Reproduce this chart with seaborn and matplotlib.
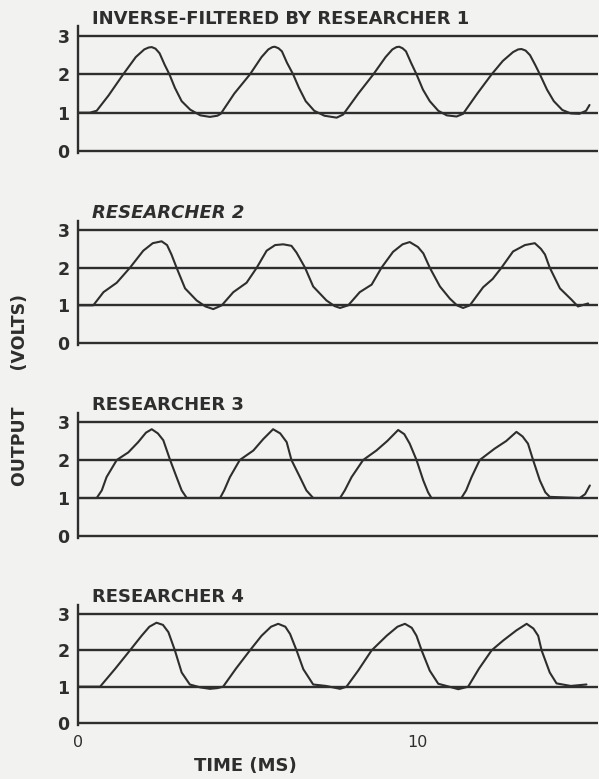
import pandas as pd
import matplotlib
matplotlib.use("Agg")
import matplotlib.pyplot as plt
import seaborn as sns

# --- Data (time in ms, output in volts) ---
r1_t = [0.0, 0.35, 0.55, 0.9, 1.33, 1.7, 1.95, 2.08, 2.17, 2.28, 2.4, 2.55, 2.69, 2.85, 3.05, 3.3, 3.6, 3.88, 4.1, 4.2,
        4.6, 5.06, 5.4, 5.6, 5.72, 5.79, 5.9, 6.0, 6.15, 6.33, 6.5, 6.7, 6.95, 7.25, 7.61, 7.8,
        8.25, 8.69, 9.05, 9.25, 9.37, 9.45, 9.55, 9.65, 9.8, 9.96, 10.15, 10.35, 10.6, 10.85, 11.14, 11.33,
        11.75, 12.17, 12.5, 12.8, 12.95, 13.05, 13.17, 13.3, 13.45, 13.59, 13.8, 14.0, 14.25, 14.5, 14.75, 14.95, 15.05]
r1_v = [1.0, 1.0, 1.05, 1.45, 2.0, 2.45, 2.65, 2.7, 2.71, 2.67, 2.55, 2.25, 2.0, 1.65, 1.3, 1.08, 0.93, 0.89, 0.92, 0.97,
        1.5, 2.0, 2.45, 2.65, 2.71, 2.72, 2.68, 2.6, 2.3, 2.0, 1.65, 1.3, 1.05, 0.92, 0.87, 0.95,
        1.5, 2.0, 2.45, 2.65, 2.71, 2.72, 2.68, 2.6, 2.3, 2.0, 1.6, 1.3, 1.05, 0.93, 0.9, 0.97,
        1.5, 2.0, 2.35, 2.58, 2.65, 2.66, 2.62, 2.5, 2.25, 2.0, 1.6, 1.3, 1.07, 0.98, 0.97, 1.05, 1.2]

r2_t = [0.0, 0.45, 0.75, 1.14, 1.53, 1.92, 2.2, 2.46, 2.62, 2.75, 2.9, 3.15, 3.49, 3.75, 3.98, 4.23,
        4.57, 4.96, 5.26, 5.55, 5.8, 6.04, 6.28, 6.43, 6.68, 6.92, 7.31, 7.55, 7.71, 7.95,
        8.29, 8.64, 8.93, 9.27, 9.55, 9.76, 10.0, 10.16, 10.35, 10.65, 10.94, 11.15, 11.33, 11.53,
        11.92, 12.2, 12.46, 12.8, 13.15, 13.44, 13.62, 13.74, 13.88, 14.18, 14.52, 14.71, 15.01]
r2_v = [1.0, 1.0, 1.35, 1.6, 2.0, 2.45, 2.65, 2.7, 2.6, 2.35, 2.0, 1.45, 1.13, 0.97, 0.9, 1.0,
        1.35, 1.6, 2.0, 2.45, 2.6, 2.62, 2.58, 2.4, 2.0, 1.5, 1.13, 0.98, 0.93, 1.0,
        1.35, 1.55, 2.0, 2.42, 2.62, 2.68, 2.55, 2.38, 2.0, 1.5, 1.18, 1.0, 0.93, 1.0,
        1.48, 1.7, 2.0, 2.43, 2.6, 2.65, 2.5, 2.35, 2.0, 1.45, 1.15, 0.97, 1.05]

r3_t = [0.0, 0.55, 0.7, 0.84, 1.14, 1.48, 1.77, 2.0, 2.17, 2.35, 2.51, 2.71, 2.9, 3.05, 3.2, 4.18,
        4.3, 4.47, 4.76, 5.16, 5.45, 5.74, 5.95, 6.14, 6.28, 6.53, 6.72, 6.92, 7.71,
        7.85, 8.05, 8.39, 8.78, 9.1, 9.42, 9.6, 9.76, 9.96, 10.16, 10.3, 10.4, 11.28,
        11.42, 11.58, 11.82, 12.26, 12.6, 12.9, 13.08, 13.24, 13.39, 13.59, 13.75, 13.88, 14.76, 14.92, 15.06]
r3_v = [1.0, 1.0, 1.2, 1.55, 2.0, 2.2, 2.47, 2.72, 2.81, 2.7, 2.52, 2.0, 1.55, 1.2, 1.0, 1.0,
        1.2, 1.55, 2.0, 2.25, 2.55, 2.81, 2.7, 2.47, 2.0, 1.55, 1.2, 1.0, 1.0,
        1.2, 1.55, 2.0, 2.25, 2.5, 2.79, 2.68, 2.43, 2.0, 1.46, 1.15, 1.0, 1.0,
        1.2, 1.55, 2.0, 2.3, 2.5, 2.74, 2.62, 2.43, 2.0, 1.46, 1.15, 1.03, 1.0, 1.1, 1.33]

r4_t = [0.0, 0.65, 1.1, 1.53, 1.87, 2.1, 2.31, 2.5, 2.66, 2.85, 3.05, 3.29, 3.6, 3.88, 4.1, 4.27,
        4.65, 5.06, 5.4, 5.68, 5.89, 6.1, 6.24, 6.43, 6.63, 6.92, 7.3, 7.71, 7.9,
        8.25, 8.64, 9.08, 9.4, 9.62, 9.82, 9.96, 10.11, 10.35, 10.6, 10.84, 11.19, 11.48,
        11.8, 12.17, 12.51, 12.9, 13.2, 13.4, 13.54, 13.64, 13.88, 14.08, 14.5, 14.96]
r4_v = [1.0, 1.0, 1.5, 2.0, 2.4, 2.65, 2.76, 2.7, 2.5, 2.0, 1.39, 1.06, 0.98, 0.94, 0.96, 1.0,
        1.5, 2.0, 2.4, 2.65, 2.73, 2.65, 2.45, 2.0, 1.48, 1.06, 1.02, 0.94, 1.0,
        1.45, 2.0, 2.4, 2.65, 2.73, 2.62, 2.4, 2.0, 1.44, 1.08, 1.02, 0.93, 1.0,
        1.5, 2.0, 2.27, 2.55, 2.73, 2.6, 2.4, 2.0, 1.39, 1.09, 1.02, 1.06]

titles = ["INVERSE-FILTERED BY RESEARCHER 1", "RESEARCHER 2", "RESEARCHER 3", "RESEARCHER 4"]
title_styles = ["normal", "italic", "normal", "normal"]
y_ticks = [0, 1, 2, 3]
x_ticks = [0, 10]
x_ticklabels = ["0", "10"]

traces = [(r1_t, r1_v), (r2_t, r2_v), (r3_t, r3_v), (r4_t, r4_v)]

# --- Style ---
paper = "#f2f2f0"
ink = "#2e2e2e"
sns.set_style("white")
plt.rcParams["font.family"] = ["DejaVu Sans"]

W, H = 599, 779
fig = plt.figure(figsize=(W / 100, H / 100), dpi=100, facecolor=paper)

# pixel rows of the 0 V and 3 V lines in each panel
panel_rows = [(151, 36), (343, 230), (536, 422), (723, 614)]
x_left, x_right = 78, 598
xmax = 15.3
ylo, yhi = -0.05, 3.25

for i, ((t, v), (p0, p3)) in enumerate(zip(traces, panel_rows)):
    ppv = (p0 - p3) / 3.0
    top = p3 - (yhi - 3) * ppv
    bot = p0 + (0 - ylo) * ppv
    ax = fig.add_axes([x_left / W, 1 - bot / H, (x_right - x_left) / W, (bot - top) / H])
    ax.set_facecolor(paper)

    for lvl in y_ticks:
        ax.axhline(lvl, color=ink, lw=1.7, zorder=1)

    df = pd.DataFrame({"time": t, "volts": v})
    sns.lineplot(data=df, x="time", y="volts", ax=ax, color=ink, lw=1.5, sort=False, zorder=2)

    ax.set_xlim(0, xmax)
    ax.set_ylim(ylo, yhi)
    for s in ["top", "right", "bottom"]:
        ax.spines[s].set_visible(False)
    ax.spines["left"].set_color(ink)
    ax.spines["left"].set_linewidth(1.7)
    ax.set_yticks(y_ticks)
    ax.set_yticklabels([str(k) for k in y_ticks], fontsize=12.5, fontweight="bold", color=ink)
    ax.tick_params(axis="y", length=0, pad=6)
    ax.set_xlabel("")
    ax.set_ylabel("")
    if i == 3:
        ax.set_xticks(x_ticks)
        ax.set_xticklabels(x_ticklabels, fontsize=11.5, color=ink)
        ax.tick_params(axis="x", length=0, pad=7)
    else:
        ax.set_xticks([])

    ax.text(0.027, 0.99, titles[i], transform=ax.transAxes, ha="left", va="bottom",
            fontsize=13, fontweight="bold", fontstyle=title_styles[i], color=ink)

fig.text(245 / W, 1 - 766 / H, "TIME (MS)", ha="center", va="center",
         fontsize=13, fontweight="bold", color=ink)
fig.text(20 / W, 1 - 390 / H, "OUTPUT      (VOLTS)", ha="center", va="center", rotation=90,
         fontsize=12.5, fontweight="bold", color=ink)

fig.savefig("out.png", dpi=100, facecolor=paper)
